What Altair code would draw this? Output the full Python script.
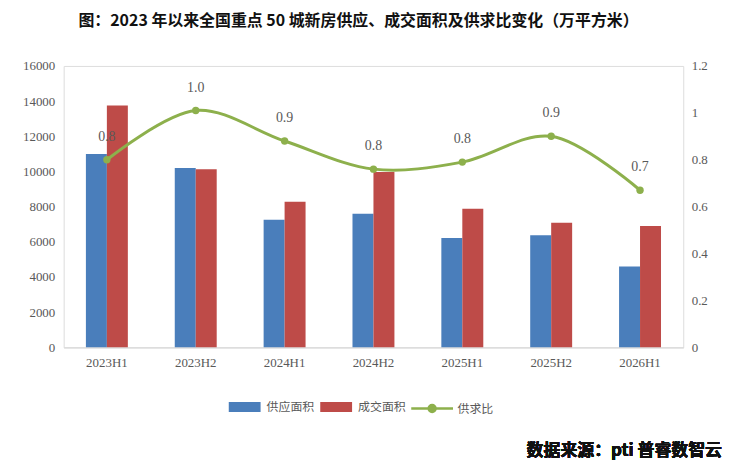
import altair as alt
import pandas as pd

periods = ["2023H1", "2023H2", "2024H1", "2024H2", "2025H1", "2025H2", "2026H1"]
supply = [11000, 10200, 7250, 7600, 6220, 6380, 4600]
deal = [13750, 10120, 8280, 9970, 7880, 7090, 6900]
ratio = [0.80, 1.01, 0.88, 0.76, 0.79, 0.90, 0.67]
left_ticks = [0, 2000, 4000, 6000, 8000, 10000, 12000, 14000, 16000]
right_ticks = [0, 0.2, 0.4, 0.6, 0.8, 1.0, 1.2]
series_names = ["供应面积", "成交面积"]
ratio_name = "供求比"
title_text = "图：2023 年以来全国重点 50 城新房供应、成交面积及供求比变化（万平方米）"
source_text = "数据来源：pti 普睿数智云"

BLUE = "#4A7EBB"
RED = "#BE4B48"
GREEN = "#8DB04C"
SERIF = "Liberation Serif"
CJK = "Noto Sans CJK SC"
GRAY = "#595959"

bars_df = pd.DataFrame({
    "period": periods * 2,
    "series": [series_names[0]] * len(periods) + [series_names[1]] * len(periods),
    "value": supply + deal,
})
ratio_df = pd.DataFrame({"period": periods, "ratio": ratio, "name": [ratio_name] * len(periods)})

x_enc = alt.X(
    "period:N", sort=periods, title=None,
    scale=alt.Scale(paddingInner=0.528, paddingOuter=0.25),
    axis=alt.Axis(labelAngle=0, labelFont=SERIF, labelFontSize=13, labelColor=GRAY,
                  labelPadding=9, ticks=False, domainColor="#D9D9D9", domainWidth=1.5, grid=False),
)

rect_path = "M-1.6,-0.5H1.6V0.5H-1.6Z"
bars = alt.Chart(bars_df).mark_bar().encode(
    x=x_enc,
    xOffset=alt.XOffset("series:N", sort=series_names),
    y=alt.Y("value:Q", title=None,
            scale=alt.Scale(domain=[0, 16000]),
            axis=alt.Axis(values=left_ticks, format="d", labelFont=SERIF, labelFontSize=13,
                          labelColor=GRAY, labelPadding=9, ticks=False, domain=False, grid=False)),
    fill=alt.Fill("series:N", sort=series_names,
                  scale=alt.Scale(domain=series_names, range=[BLUE, RED]),
                  legend=alt.Legend(orient="none", legendX=172, legendY=333, direction="horizontal",
                                    title=None, symbolType=rect_path, symbolSize=400,
                                    symbolStrokeWidth=0, labelOffset=12, columnPadding=5,
                                    labelFont=CJK, labelFontSize=12, labelColor=GRAY)),
)

y_ratio = alt.Y("ratio:Q", title=None,
                scale=alt.Scale(domain=[0, 1.2]),
                axis=alt.Axis(orient="right", values=right_ticks, format="~g", labelFont=SERIF,
                              labelFontSize=13, labelColor=GRAY, labelPadding=8, ticks=False,
                              domain=False, grid=False))

line_path = "M-2.1,0H2.1M0.35,0A0.35,0.35 0 1,1 -0.35,0A0.35,0.35 0 1,1 0.35,0"
base_r = alt.Chart(ratio_df)
line = base_r.mark_line(interpolate="catmull-rom", strokeWidth=3).encode(
    x=alt.X("period:N", sort=periods),
    y=y_ratio,
    stroke=alt.Stroke("name:N", scale=alt.Scale(domain=[ratio_name], range=[GREEN]),
                      legend=alt.Legend(orient="none", legendX=359, legendY=333, title=None,
                                        symbolType=line_path, symbolSize=400, symbolStrokeWidth=2.5,
                                        symbolFillColor=GREEN, labelOffset=14,
                                        labelFont=CJK, labelFontSize=12, labelColor=GRAY)),
)
pts = base_r.mark_circle(size=55, color=GREEN, opacity=1).encode(
    x=alt.X("period:N", sort=periods), y=y_ratio)
labels = base_r.mark_text(dy=-23, font=SERIF, fontSize=14, color=GRAY).encode(
    x=alt.X("period:N", sort=periods), y=y_ratio,
    text=alt.Text("ratio:Q", format=".1f"))
source = base_r.mark_text(align="right", baseline="middle", font=CJK, fontSize=17,
                          fontWeight="bold", color="#111111").encode(
    x=alt.value(662), y=alt.value(387), text=alt.value(source_text))

right = alt.layer(line, pts, labels, source)

chart = alt.layer(bars, right).resolve_scale(y="independent").properties(
    width=623, height=283,
    padding={"left": 56, "top": 57, "right": 40, "bottom": 115},
    autosize=alt.AutoSizeParams(type="none"),
    title=alt.TitleParams(title_text, font=CJK, fontSize=16, fontWeight="bold", color="#111111",
                          anchor="middle", dx=-15, offset=31),
).configure_view(stroke=None).configure(background="white")

chart.save("out.html", embed_options={"renderer": "svg", "actions": False})
